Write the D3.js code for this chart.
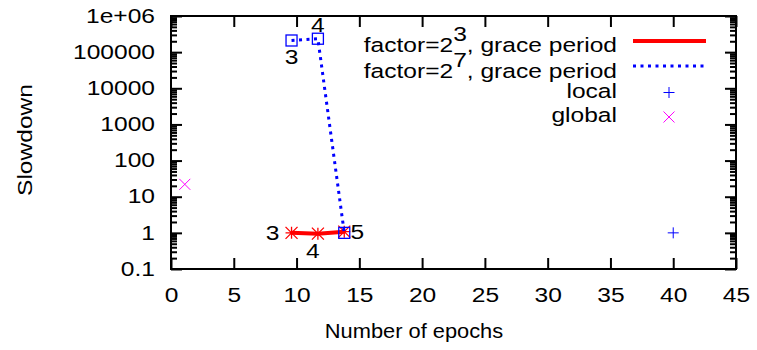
<!DOCTYPE html>
<html>
<head>
<meta charset="utf-8">
<style>
  body { margin: 0; background: #fff; }
  svg text { font-family: "Liberation Sans", Arial, sans-serif; font-size: 19.5px; fill: #000; }
</style>
</head>
<body>
<div id="chart"></div>
<script src="https://cdn.jsdelivr.net/npm/d3@7"></script>
<script>
// data
var xTicks = [0, 5, 10, 15, 20, 25, 30, 35, 40, 45];
var yTicks = [0.1, 1, 10, 100, 1000, 10000, 100000, 1e6];
var yTickLabels = ["0.1", "1", "10", "100", "1000", "10000", "100000", "1e+06"];

var epochs3 = [9.6, 11.7, 13.8];
var slow3 = [1.0, 0.95, 1.08];
var labels3 = ["3", "4", "5"];

var epochs7 = [9.6, 11.7, 13.8];
var slow7 = [210000, 235000, 1.0];
var labels7 = ["3", "4", ""];

var localX = [40], localY = [1.0];
var globalX = [1.1], globalY = [22];

var SX = 1.26; // gnuplot font is wide

var W = 757, H = 350;
var pLeft = 171, pRight = 736, pTop = 16, pBottom = 269;

var svg = d3.select("#chart").append("svg")
  .attr("width", W).attr("height", H);

var x = d3.scaleLinear().domain([0, 45]).range([pLeft, pRight]);
var y = d3.scaleLog().domain([0.1, 1e6]).range([pBottom, pTop]);

function stext(g, px, py, str, anchor, sx) {
  return g.append("text")
    .attr("transform", "translate(" + px + "," + py + ") scale(" + (sx || SX) + ",1)")
    .attr("text-anchor", anchor || "middle")
    .text(str);
}

// minor log ticks
var minors = [];
yTicks.slice(0, -1).forEach(function(d) {
  for (var k = 2; k <= 9; k++) minors.push(d * k);
});

function styleAxis(g) {
  g.select(".domain").remove();
  g.selectAll("line").attr("stroke", "#000").attr("stroke-width", 2);
  g.attr("font-size", null).attr("font-family", null);
}

// bottom
svg.append("g").attr("transform", "translate(0," + pBottom + ")")
  .call(d3.axisBottom(x).tickValues(xTicks).tickSizeInner(-11).tickSizeOuter(0).tickPadding(19))
  .call(styleAxis)
  .call(function(g) {
    g.selectAll("text").attr("transform", "scale(" + SX + ",1)");
  });

// top
svg.append("g").attr("transform", "translate(0," + pTop + ")")
  .call(d3.axisTop(x).tickValues(xTicks).tickSizeInner(-11).tickSizeOuter(0).tickFormat(""))
  .call(styleAxis);

// left
svg.append("g").attr("transform", "translate(" + pLeft + ",0)")
  .call(d3.axisLeft(y).tickValues(yTicks).tickSizeInner(-11).tickSizeOuter(0)
    .tickFormat(function(d, i) { return yTickLabels[i]; }))
  .call(styleAxis)
  .call(function(g) {
    g.selectAll("text").attr("x", -16 / SX).attr("transform", "scale(" + SX + ",1)");
  });
svg.append("g").attr("transform", "translate(" + pLeft + ",0)")
  .call(d3.axisLeft(y).tickValues(minors).tickSizeInner(-6).tickSizeOuter(0).tickFormat(""))
  .call(styleAxis);

// right
svg.append("g").attr("transform", "translate(" + pRight + ",0)")
  .call(d3.axisRight(y).tickValues(yTicks).tickSizeInner(-11).tickSizeOuter(0).tickFormat(""))
  .call(styleAxis);
svg.append("g").attr("transform", "translate(" + pRight + ",0)")
  .call(d3.axisRight(y).tickValues(minors).tickSizeInner(-6).tickSizeOuter(0).tickFormat(""))
  .call(styleAxis);

// border
svg.append("rect")
  .attr("x", pLeft).attr("y", pTop)
  .attr("width", pRight - pLeft).attr("height", pBottom - pTop)
  .attr("fill", "none").attr("stroke", "#000").attr("stroke-width", 2);

// axis titles
stext(svg, 414, 338, "Number of epochs", "middle", 1.12);
svg.append("text")
  .attr("transform", "translate(32,140) rotate(-90) scale(" + SX + ",1)")
  .attr("text-anchor", "middle")
  .text("Slowdown");

// marker helpers
function asterisk(g, cx, cy, r, color) {
  var p = "M" + (cx - r) + "," + cy + "H" + (cx + r) +
          "M" + cx + "," + (cy - r) + "V" + (cy + r) +
          "M" + (cx - r) + "," + (cy - r) + "L" + (cx + r) + "," + (cy + r) +
          "M" + (cx - r) + "," + (cy + r) + "L" + (cx + r) + "," + (cy - r);
  g.append("path").attr("d", p).attr("stroke", color).attr("stroke-width", 1.3).attr("fill", "none");
}
function plus(g, cx, cy, r, color) {
  g.append("path").attr("d", "M" + (cx - r) + "," + cy + "H" + (cx + r) + "M" + cx + "," + (cy - r) + "V" + (cy + r))
    .attr("stroke", color).attr("stroke-width", 1).attr("fill", "none");
}
function cross(g, cx, cy, r, color) {
  g.append("path").attr("d", "M" + (cx - r) + "," + (cy - r) + "L" + (cx + r) + "," + (cy + r) +
      "M" + (cx - r) + "," + (cy + r) + "L" + (cx + r) + "," + (cy - r))
    .attr("stroke", color).attr("stroke-width", 1).attr("fill", "none");
}
function square(g, cx, cy, r, color) {
  g.append("rect").attr("x", cx - r).attr("y", cy - r).attr("width", 2 * r).attr("height", 2 * r)
    .attr("stroke", color).attr("stroke-width", 1.3).attr("fill", "none");
}

var line = d3.line().x(function(d) { return x(d[0]); }).y(function(d) { return y(d[1]); });
var plot = svg.append("g");

// factor=2^3 series
var s3 = epochs3.map(function(d, i) { return [d, slow3[i]]; });
plot.append("path").datum(s3).attr("d", line)
  .attr("fill", "none").attr("stroke", "#ff0000").attr("stroke-width", 4);
s3.forEach(function(d) { asterisk(plot, x(d[0]), y(d[1]), 6, "#ff0000"); });

// factor=2^7 series
var s7 = epochs7.map(function(d, i) { return [d, slow7[i]]; });
plot.append("path").datum(s7).attr("d", line)
  .attr("fill", "none").attr("stroke", "#0000ff").attr("stroke-width", 3)
  .attr("stroke-dasharray", "3,4.5");
s7.forEach(function(d) { square(plot, x(d[0]), y(d[1]), 5.5, "#0000ff"); });

localX.forEach(function(d, i) { plus(plot, x(d), y(localY[i]), 5.5, "#0000ff"); });
globalX.forEach(function(d, i) { cross(plot, x(d), y(globalY[i]), 5.5, "#ff00ff"); });

// point labels
var off3 = [[-19, 7], [-5, 24], [13, 7]];
s3.forEach(function(d, i) {
  stext(plot, x(d[0]) + off3[i][0], y(d[1]) + off3[i][1], labels3[i], "middle");
});
var off7 = [[0, 24], [0, -7]];
s7.forEach(function(d, i) {
  if (labels7[i]) stext(plot, x(d[0]) + off7[i][0], y(d[1]) + off7[i][1], labels7[i], "middle");
});

// legend
var legend = svg.append("g");
var lx0 = 633, lx1 = 706, tx = 617;
function supText(py, base, sup, rest) {
  var t = legend.append("text")
    .attr("transform", "translate(" + tx + "," + py + ") scale(" + SX + ",1)")
    .attr("text-anchor", "end");
  t.append("tspan").text(base);
  t.append("tspan").attr("dy", -11).text(sup);
  t.append("tspan").attr("dy", 11).text(rest);
}
supText(52, "factor=2", "3", ", grace period");
legend.append("line").attr("x1", lx0).attr("x2", lx1).attr("y1", 41).attr("y2", 41)
  .attr("stroke", "#ff0000").attr("stroke-width", 4);
supText(78, "factor=2", "7", ", grace period");
legend.append("line").attr("x1", lx0).attr("x2", lx1).attr("y1", 66).attr("y2", 66)
  .attr("stroke", "#0000ff").attr("stroke-width", 3).attr("stroke-dasharray", "3,4.5");
stext(legend, tx, 98, "local", "end");
plus(legend, 669, 92.5, 5.5, "#0000ff");
stext(legend, tx, 122, "global", "end");
cross(legend, 669, 117, 5.5, "#ff00ff");
</script>
</body>
</html>
